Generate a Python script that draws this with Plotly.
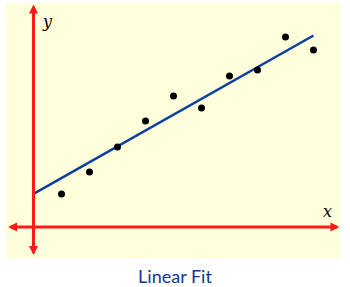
import plotly.graph_objects as go

# data
x_pts = [1, 2, 3, 4, 5, 6, 7, 8, 9, 10]
y_pts = [1.18, 1.96, 2.86, 3.79, 4.68, 4.25, 5.39, 5.61, 6.79, 6.32]
fit_x = [0, 10]
fit_y = [1.18, 6.84]
title_text = "Linear Fit"

XR = [-0.982, 10.946]
YR = [-1.107, 8.0]

fig = go.Figure()
fig.add_trace(go.Scatter(x=fit_x, y=fit_y, mode="lines",
                         line=dict(color="#0d3ea3", width=2.5), hoverinfo="skip"))
fig.add_trace(go.Scatter(x=x_pts, y=y_pts, mode="markers",
                         marker=dict(color="black", size=7), hoverinfo="skip"))

red = "#ff1a1a"
# x axis double arrow
fig.add_annotation(x=XR[1] - 0.02, y=0, ax=XR[0] + 0.02, ay=0, xref="x", yref="y",
                   axref="x", ayref="y", text="", showarrow=True,
                   arrowhead=2, startarrowhead=2, arrowside="end+start",
                   arrowsize=0.6, startarrowsize=0.6, arrowwidth=3, arrowcolor=red,
                   standoff=0, startstandoff=0)
# y axis double arrow
fig.add_annotation(x=0, y=YR[1] - 0.05, ax=0, ay=YR[0] + 0.05, xref="x", yref="y",
                   axref="x", ayref="y", text="", showarrow=True,
                   arrowhead=2, startarrowhead=2, arrowside="end+start",
                   arrowsize=0.6, startarrowsize=0.6, arrowwidth=3, arrowcolor=red,
                   standoff=0, startstandoff=0)

fig.add_annotation(x=0.5, y=7.35, xref="x", yref="y", text="<i>y</i>", showarrow=False,
                   font=dict(family="DejaVu Serif", size=16, color="black"))
fig.add_annotation(x=10.5, y=0.55, xref="x", yref="y", text="<i>x</i>", showarrow=False,
                   font=dict(family="DejaVu Serif", size=16, color="black"))

fig.update_layout(
    width=350, height=287,
    margin=dict(l=6, r=10, t=3, b=29),
    paper_bgcolor="white",
    plot_bgcolor="#ffffdc",
    showlegend=False,
    xaxis=dict(range=XR, visible=False, fixedrange=True),
    yaxis=dict(range=YR, visible=False, fixedrange=True),
    title=dict(text=title_text, x=0.5, xanchor="center", y=0.015, yanchor="bottom",
               font=dict(family="Lato", size=18, color="#123594")),
)

fig.write_html("out.html")
